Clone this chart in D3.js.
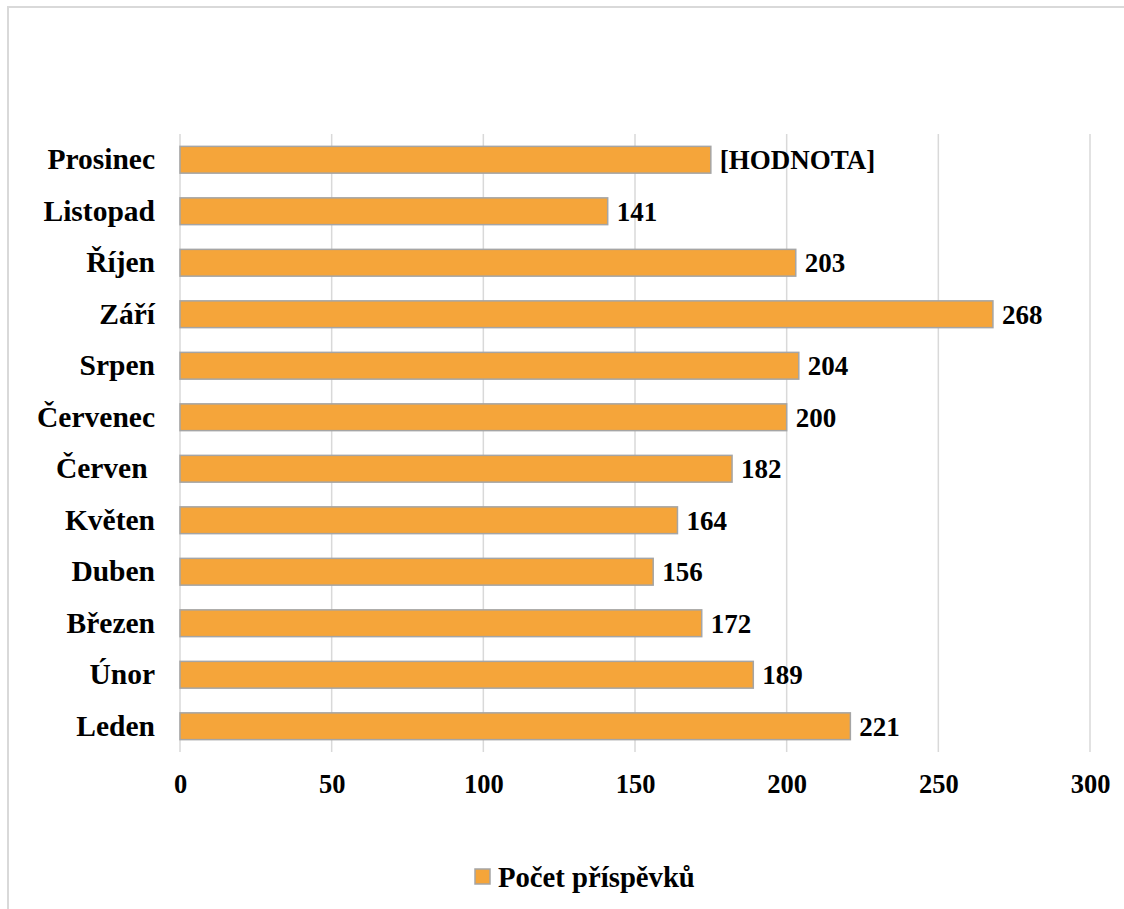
<!DOCTYPE html>
<html>
<head>
<meta charset="utf-8">
<script src="https://cdn.jsdelivr.net/npm/d3@7"></script>
<style>
  body { margin: 0; background: #fff; }
  text { font-family: "Times New Roman", "Liberation Serif", serif; font-weight: bold; fill: #000; }
</style>
</head>
<body>
<svg id="chart" width="1124" height="909"></svg>
<script>
// months bottom to top, as in the source sheet
var months = ["Leden", "Únor", "Březen", "Duben", "Květen", "Červen ", "Červenec", "Srpen", "Září", "Říjen", "Listopad", "Prosinec"];
var posts = [221, 189, 172, 156, 164, 182, 200, 204, 268, 203, 141, 175];
var valueLabels = ["221", "189", "172", "156", "164", "182", "200", "204", "268", "203", "141", "[HODNOTA]"];
var xTicks = [0, 50, 100, 150, 200, 250, 300];
var seriesName = "Počet příspěvků";

var svg = d3.select("#chart");

// outer chart border (runs off the right and bottom edge)
svg.append("rect")
    .attr("x", 8).attr("y", 7)
    .attr("width", 1130).attr("height", 920)
    .attr("fill", "none")
    .attr("stroke", "#d9d9d9")
    .attr("stroke-width", 2);

var plotTop = 134, plotBottom = 752;

var x = d3.scaleLinear()
    .domain([0, 300])
    .range([180, 1090]);

var y = d3.scaleBand()
    .domain(months.slice().reverse())
    .range([plotTop, plotBottom])
    .paddingInner(0.48)
    .paddingOuter(0.24);

var rows = months.map(function(m, i) { return {m: m, v: posts[i], l: valueLabels[i]}; });

// gridlines
svg.append("g")
    .selectAll("line")
    .data(xTicks)
    .enter().append("line")
    .attr("x1", function(d) { return x(d); })
    .attr("x2", function(d) { return x(d); })
    .attr("y1", plotTop)
    .attr("y2", plotBottom)
    .attr("stroke", "#d9d9d9")
    .attr("stroke-width", 1.5);

// x axis labels
var xAxis = svg.append("g")
    .attr("transform", "translate(0," + plotBottom + ")")
    .call(d3.axisBottom(x).tickValues(xTicks).tickSize(0).tickPadding(22));
xAxis.select(".domain").remove();
xAxis.selectAll("text")
    .style("font-size", "26.5px")
    .style("font-family", "'Times New Roman', 'Liberation Serif', serif");

// category axis
var yAxis = svg.append("g")
    .attr("transform", "translate(180,0)")
    .call(d3.axisLeft(y).tickSize(0).tickPadding(25));
yAxis.select(".domain").remove();
yAxis.selectAll("text")
    .style("font-size", "29.5px")
    .style("font-family", "'Times New Roman', 'Liberation Serif', serif")
    .style("white-space", "pre");

// bars
svg.append("g")
    .selectAll("rect")
    .data(rows)
    .enter().append("rect")
    .attr("x", x(0))
    .attr("y", function(d) { return y(d.m); })
    .attr("width", function(d) { return x(d.v) - x(0); })
    .attr("height", y.bandwidth())
    .attr("fill", "#f5a53a")
    .attr("stroke", "#a5a5a5")
    .attr("stroke-width", 1.5);

// value labels
svg.append("g")
    .selectAll("text")
    .data(rows)
    .enter().append("text")
    .attr("x", function(d) { return x(d.v) + 9; })
    .attr("y", function(d) { return y(d.m) + y.bandwidth() / 2; })
    .attr("dy", "0.35em")
    .style("font-size", "27px")
    .text(function(d) { return d.l; });

// legend
var legend = svg.append("g").attr("transform", "translate(475,869)");
legend.append("rect")
    .attr("width", 15).attr("height", 15)
    .attr("fill", "#f5a53a")
    .attr("stroke", "#a5a5a5")
    .attr("stroke-width", 1.5);
legend.append("text")
    .attr("x", 23)
    .attr("y", 7.5)
    .attr("dy", "0.35em")
    .style("font-size", "28.7px")
    .text(seriesName);
</script>
</body>
</html>
